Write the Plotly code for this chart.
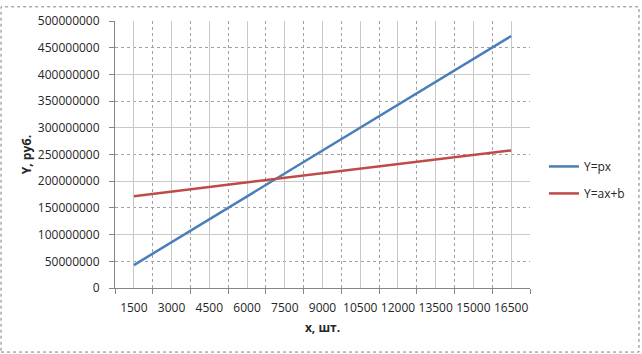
import plotly.graph_objects as go

categories = ["1500", "3000", "4500", "6000", "7500", "9000", "10500", "12000", "13500", "15000", "16500"]
y_px = [42900000, 85800000, 128700000, 171600000, 214500000, 257400000,
        300300000, 343200000, 386100000, 429000000, 471900000]
y_axb = [172000000, 180600000, 189100000, 197700000, 206300000, 214900000,
         223400000, 232000000, 240600000, 249100000, 257700000]
series_names = ["Y=px", "Y=ax+b"]
y_title = "Y, руб."
x_title = "x, шт."

W, H = 642, 354
L, R, T, B = 115, 110, 15, 66
pw, ph = W - L - R, H - T - B

FONT = "Open Sans"
TXT = "#262626"
GRID_SOLID = "#c8c8c8"
GRID_DOT = "#a0a0a0"
AXIS = "#868686"

fig = go.Figure()
fig.add_trace(go.Scatter(x=categories, y=y_px, mode="lines", name=series_names[0],
                         line=dict(color="#4a7ebb", width=2.5), legendgroup="a"))
fig.add_trace(go.Scatter(x=categories, y=y_axb, mode="lines", name=series_names[1],
                         line=dict(color="#be4b48", width=2.5), legendgroup="b"))

ymax = 500000000
fig.update_layout(
    width=W, height=H,
    margin=dict(l=L, r=R, t=T, b=B, pad=0),
    paper_bgcolor="white", plot_bgcolor="white",
    font=dict(family=FONT, size=12, color=TXT),
    showlegend=True,
    legend=dict(x=(546 - L) / pw, y=(H - B - 177.5) / ph, xanchor="left", yanchor="middle",
                traceorder="grouped", tracegroupgap=8, font=dict(size=12, color=TXT),
                bgcolor="rgba(0,0,0,0)"),
    xaxis=dict(type="category", categoryarray=categories, range=[-0.5, len(categories) - 0.5],
               tickson="boundaries", showgrid=True, gridcolor=GRID_DOT, griddash="dot", gridwidth=1,
               ticks="outside", ticklen=5, tickcolor=AXIS, showline=True, linecolor=AXIS, linewidth=1,
               tickangle=0, ticklabelstandoff=9, tickfont=dict(size=12, color=TXT),
               title=dict(text="<b>" + x_title + "</b>", standoff=8, font=dict(size=12, color=TXT)),
               zeroline=False, fixedrange=True),
    xaxis2=dict(overlaying="x", type="linear", range=[-0.5, len(categories) - 0.5],
                tickvals=list(range(len(categories))), showticklabels=False, ticks="",
                showgrid=True, gridcolor=GRID_SOLID, gridwidth=1, showline=False, zeroline=False),
    yaxis=dict(range=[0, ymax], dtick=50000000, tickformat="d", showgrid=True, gridcolor=GRID_DOT,
               griddash="dot", gridwidth=1, ticks="outside", ticklen=5, tickcolor=AXIS,
               showline=True, linecolor=AXIS, linewidth=1, ticklabelstandoff=7,
               tickfont=dict(size=12, color=TXT), zeroline=False,
               title=dict(text="<b>" + y_title + "</b>", standoff=3, font=dict(size=12, color=TXT))),
    yaxis2=dict(overlaying="y", range=[0, ymax], dtick=100000000, showticklabels=False, ticks="",
                showgrid=True, gridcolor=GRID_SOLID, gridwidth=1, showline=False, zeroline=False),
)

# invisible helper trace to activate the overlay grid axes
fig.add_trace(go.Scatter(x=[0], y=[0], xaxis="x2", yaxis="y2", mode="markers",
                         marker=dict(opacity=0), showlegend=False, hoverinfo="skip"))

# outer dotted frame around the whole chart
fig.add_shape(type="rect", xref="paper", yref="paper",
              x0=(0.5 - L) / pw, x1=(W - 0.5 - L) / pw,
              y0=-(B - 0.5) / ph, y1=1 + (T - 0.5) / ph,
              line=dict(color="#7f7f7f", width=1, dash="dot"), layer="below")

fig.write_html("out.html")
